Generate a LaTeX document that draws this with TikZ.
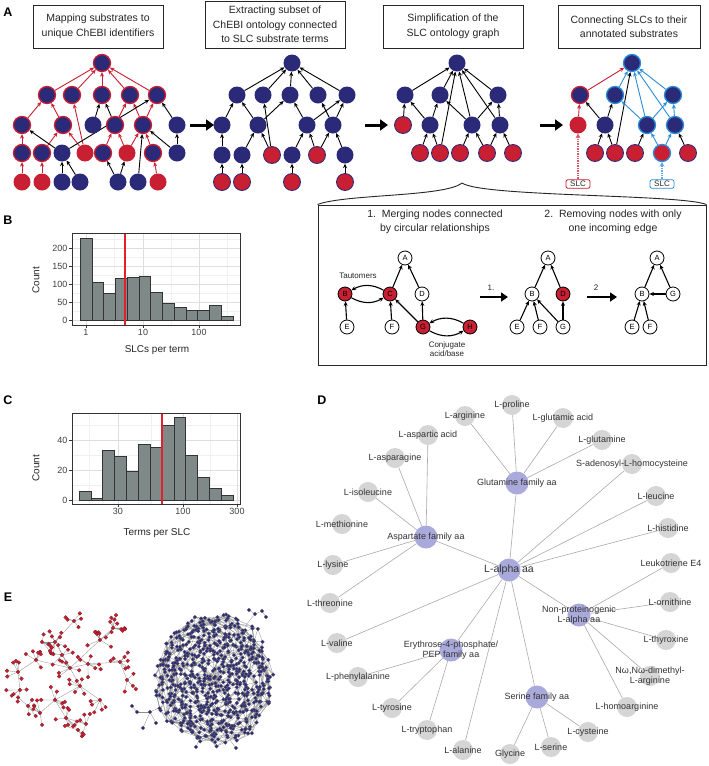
\documentclass[tikz,border=0pt]{standalone}
\usepackage{fontspec}
\setmainfont{Liberation Sans}
\usetikzlibrary{arrows.meta,calc}
\definecolor{navy}{HTML}{2B2A78}
\definecolor{redc}{HTML}{C81F32}
\definecolor{bluec}{HTML}{2A8CD8}
\definecolor{barc}{HTML}{7F8987}
\definecolor{grayn}{HTML}{D5D5D5}
\definecolor{purn}{HTML}{AAA9DC}
\definecolor{vln}{HTML}{E0202A}
\pgfdeclarelayer{bg}
\pgfsetlayers{bg,main}
\begin{document}
\begin{tikzpicture}[x=1pt,y=-1pt,
  nv/.style={circle,fill=navy,minimum size=17pt,inner sep=0pt},
  nvr/.style={nv,draw=redc,line width=1.3pt},
  nvb/.style={nv,draw=bluec,line width=1.3pt},
  rd/.style={circle,fill=redc,draw=navy,line width=0.8pt,minimum size=17pt,inner sep=0pt},
  rdp/.style={circle,fill=redc,minimum size=17pt,inner sep=0pt},
  rdb/.style={rd,draw=bluec,line width=1.3pt},
  ar/.style={-{Stealth[length=4.5pt,width=4pt]},line width=0.9pt},
  bigar/.style={-{Triangle[length=8pt,width=11pt]},line width=3pt},
  tbox/.style={draw=black!85,line width=1pt,align=center,font=\fontsize{10.5}{14.5}\selectfont,text=black!85,minimum height=43pt,inner sep=0pt},
  plab/.style={font=\bfseries\fontsize{12.5}{13}\selectfont},
  sc/.style={circle,draw=black,line width=0.8pt,fill=white,minimum size=14pt,inner sep=0pt,font=\fontsize{7.5}{8}\selectfont},
  scr/.style={sc,fill=redc},
  sar/.style={-{Stealth[length=4.5pt,width=4pt]},line width=1.1pt},
  mar/.style={-{Triangle[length=7pt,width=9pt]},line width=2.4pt},
  small/.style={font=\fontsize{8}{9.5}\selectfont,align=center,text=black!85},
  gmaj/.style={draw=black!13,line width=0.6pt},
  gmin/.style={draw=black!6,line width=0.4pt},
  bar/.style={fill=barc,draw=black!80,line width=0.5pt},
  vl/.style={draw=vln,line width=1.1pt},
  frm/.style={draw=black!80,line width=1pt},
  tk/.style={draw=black!80,line width=0.6pt},
  tkl/.style={font=\fontsize{9}{10}\selectfont,text=black!75,inner sep=1pt},
  axt/.style={font=\fontsize{10}{11}\selectfont,text=black!85},
  gn/.style={circle,fill=grayn,minimum size=20pt,inner sep=0pt},
  pn/.style={circle,fill=purn,minimum size=23pt,inner sep=0pt},
  dl/.style={font=\fontsize{9}{10.5}\selectfont,text=black!80,align=center},
  de/.style={draw=black!33,line width=0.6pt},
  eln/.style={draw=black!45,line width=0.3pt},
  rdot/.style={fill=redc,draw=redc!60!black,line width=0.2pt},
  bdot/.style={fill=navy,draw=black!60,line width=0.2pt},
  slcbox/.style={rounded corners=2pt,line width=0.8pt,font=\fontsize{8}{9}\selectfont,inner sep=1.5pt,minimum width=24pt,text=black!85,fill=white},
]
\begin{pgfonlayer}{bg}
\fill[white] (0,0) rectangle (709,766);
\end{pgfonlayer}
\useasboundingbox (0,0) rectangle (709,766);

% ---------------- Panel letters
\node[plab] (labA) at (8,12) {A};
\node[plab] (labB) at (8,220) {B};
\node[plab] (labC) at (8,400) {C};
\node[plab] (labD) at (322,400) {D};
\node[plab] (labE) at (8,597) {E};

% ---------------- Panel A titles
\node[tbox,minimum width=130pt] (t1) at (98,26.5) {Mapping substrates to\\unique ChEBI identifiers};
\node[tbox,minimum width=140pt,minimum height=47pt] (t2) at (275,24.5) {Extracting subset of\\ChEBI ontology connected\\to SLC substrate terms};
\node[tbox,minimum width=140pt] (t3) at (453,26.5) {Simplification of the\\SLC ontology graph};
\node[tbox,minimum width=142pt] (t4) at (629,26.5) {Connecting SLCs to their\\annotated substrates};

% ---------------- Graph 1
\foreach \n/\x/\y/\s in {g1T/102/63/nvr,
 g1a1/47/95/nvr,g1a2/72/95/nvr,g1a3/102/95/nvr,g1a4/130/95/nvr,g1a5/157/95/nvr,
 g1b1/22/125/nvr,g1b2/63/125/nvr,g1b3/93/125/nv,g1b4/115/125/nvr,g1b5/143/125/nvr,g1b6/177/125/nv,
 g1c1/22/153/nvr,g1c2/42/153/nvr,g1c3/62/153/nv,g1c4/85/153/rdp,g1c5/103/153/nvr,g1c6/127/153/rdp,g1c7/153/153/nvr,g1c8/177/153/nv,
 g1d1/22/182/rdp,g1d2/42/182/rdp,g1d3/62/182/nv,g1d4/80/182/nv,g1d5/118/182/nv,g1d6/138/182/nv,g1d7/158/182/rdp}
 \node[\s] (\n) at (\x,\y) {};
% ---------------- Graph 2
\foreach \n/\x/\y/\s in {g2T/292/63/nv,
 g2a1/237/95/nv,g2a2/263/95/nv,g2a3/290/95/nv,g2a4/318/95/nv,g2a5/347/95/nv,
 g2b1/222/125/nv,g2b2/258/125/nv,g2b3/307/125/nv,g2b4/333/125/nv,
 g2c1/222/155/nv,g2c2/242/155/nv,g2c3/272/155/rd,g2c4/292/155/nv,g2c5/317/155/rd,g2c6/345/155/nv,
 g2d1/222/182/rd,g2d2/242/182/rd,g2d3/292/182/rd,g2d4/345/182/rd}
 \node[\s] (\n) at (\x,\y) {};
% ---------------- Graph 3
\foreach \n/\x/\y/\s in {g3T/457/63/nv,
 g3a1/405/95/nv,g3a2/440/95/nv,g3a3/498/95/nv,
 g3b1/403/125/rd,g3b2/430/125/nv,g3b3/472/125/nv,g3b4/500/125/nv,
 g3c1/420/153/rd,g3c2/440/153/rd,g3c3/460/153/rd,g3c4/487/153/rd,g3c5/513/153/rd}
 \node[\s] (\n) at (\x,\y) {};
% ---------------- Graph 4
\foreach \n/\x/\y/\s in {g4T/632/63/nvb,
 g4a1/580/95/nvr,g4a2/615/95/nvb,g4a3/673/95/nvb,
 g4b1/578/125/rdp,g4b2/605/125/nv,g4b3/647/125/nvb,g4b4/675/125/nvb,
 g4c1/595/153/rd,g4c2/615/153/rd,g4c3/635/153/rd,g4c4/662/153/rdb,g4c5/688/153/rd}
 \node[\s] (\n) at (\x,\y) {};
\node[slcbox,draw=redc] (slcR) at (578,184) {SLC};
\node[slcbox,draw=bluec] (slcB) at (662,184) {SLC};

\begin{pgfonlayer}{bg}
\foreach \u/\v in {g1a1/g1T,g1a2/g1T,g1a3/g1T,g1a4/g1T,g1a5/g1T,g1b1/g1a1,g1b2/g1a1,g1c4/g1a2,
  g1b4/g1a4,g1b5/g1a4,g1b5/g1a5,g1c1/g1b1,g1d1/g1c1,g1c2/g1b2,g1d2/g1c2,g1c4/g1b2,
  g1c5/g1b4,g1c6/g1b4,g1c6/g1b5,g1c7/g1b5,g1d7/g1c7}
  \draw[ar,redc] (\u) -- (\v);
\foreach \u/\v in {g1b3/g1a3,g1b4/g1a3,g1c3/g1b1,g1c3/g1a5,g1d3/g1c3,g1d4/g1c3,g1b6/g1a5,
  g1c8/g1b6,g1c8/g1b5,g1d5/g1c6,g1d6/g1b5,g1d5/g1c5}
  \draw[ar] (\u) -- (\v);
\foreach \u/\v in {g2a1/g2T,g2a2/g2T,g2a3/g2T,g2a4/g2T,g2a5/g2T,g2b1/g2a1,g2b2/g2a1,g2b2/g2a3,
  g2c1/g2b1,g2d1/g2c1,g2c2/g2b2,g2d2/g2c2,g2c3/g2b2,g2c3/g2a2,g2c4/g2b3,g2d3/g2c4,
  g2c5/g2b3,g2c5/g2b4,g2c6/g2b4,g2d4/g2c6,g2b3/g2a3,g2b3/g2a5,g2b4/g2a4,g2b4/g2a5}
  \draw[ar] (\u) -- (\v);
\foreach \u/\v in {g3a1/g3T,g3a2/g3T,g3a3/g3T,g3b1/g3a1,g3b2/g3a1,g3b2/g3a2,g3c1/g3b2,g3c2/g3b2,
  g3c2/g3T,g3b3/g3T,g3b4/g3T,g3b3/g3a2,g3b3/g3a3,g3b4/g3a3,g3c3/g3b3,g3c4/g3b3,g3c4/g3b4,g3c5/g3b4}
  \draw[ar] (\u) -- (\v);
\foreach \u/\v in {g4b1/g4a1,g4a1/g4T}
  \draw[ar,redc] (\u) -- (\v);
\foreach \u/\v in {g4b2/g4a1,g4b2/g4a2,g4c1/g4b2,g4c2/g4b2,g4c2/g4T,g4c3/g4b3,g4c5/g4b4}
  \draw[ar] (\u) -- (\v);
\foreach \u/\v in {g4a2/g4T,g4a3/g4T,g4b3/g4T,g4b4/g4T,g4b3/g4a2,g4b3/g4a3,g4b4/g4a3,g4c4/g4b3,g4c4/g4b4}
  \draw[ar,bluec] (\u) -- (\v);
\end{pgfonlayer}
\draw[redc!75,line width=1.8pt,dash pattern=on 1pt off 0.7pt,-{Stealth[length=4.5pt,width=5pt]}] (slcR) -- (g4b1);
\draw[bluec!75,line width=1.8pt,dash pattern=on 1pt off 0.7pt,-{Stealth[length=4.5pt,width=5pt]}] (slcB) -- (g4c4);

% transition arrows
\coordinate (p1s) at (190,125); \coordinate (p1e) at (214,125);
\coordinate (p2s) at (365,125); \coordinate (p2e) at (388,125);
\coordinate (p3s) at (540,125); \coordinate (p3e) at (563,125);
\draw[bigar] (p1s) -- (p1e);
\draw[bigar] (p2s) -- (p2e);
\draw[bigar] (p3s) -- (p3e);

% ---------------- Process box with brace
\node[draw=black!85,line width=1pt,minimum width=388pt,minimum height=160pt,inner sep=0pt] (pbox) at (512,285) {};
\coordinate (btip) at (462,183);
\draw[line width=0.9pt,black!85] (pbox.north west) .. controls (345,194) and (445,197) .. (btip);
\draw[line width=0.9pt,black!85] (btip) .. controls (482,197) and (680,194) .. (pbox.north east);
\node[font=\fontsize{10.5}{13.5}\selectfont,align=center,text=black!85] (st1) at (435,222) {1.\ \ Merging nodes connected\\by circular relationships};
\node[font=\fontsize{10.5}{13.5}\selectfont,align=center,text=black!85] (st2) at (613,222) {2.\ \ Removing nodes with only\\one incoming edge};

\node[sc] (sA) at (405,258) {A};
\node[scr] (sB) at (345,294) {B};
\node[scr] (sC) at (390,294) {C};
\node[sc] (sD) at (422,294) {D};
\node[sc] (sE) at (347,327) {E};
\node[sc] (sF) at (392,327) {F};
\node[scr] (sG) at (423,327) {G};
\node[scr] (sH) at (470,327) {H};
\node[small] (taut) at (358,276) {Tautomers};
\node[small] (conj) at (447,349) {Conjugate\\acid/base};
\foreach \u/\v in {sC/sA,sD/sA,sE/sB,sF/sC,sG/sC,sG/sD} \draw[sar] (\u) -- (\v);
\draw[sar] (sC) to[out=150,in=30] (sB);
\draw[sar] (sB) to[out=-30,in=-150] (sC);
\draw[sar] (sH) to[out=150,in=30] (sG);
\draw[sar] (sG) to[out=-30,in=-150] (sH);

\node[sc] (mA) at (548,258) {A};
\node[sc] (mB) at (532,294) {B};
\node[scr] (mD) at (563,294) {D};
\node[sc] (mE) at (517,327) {E};
\node[sc] (mF) at (540,327) {F};
\node[sc] (mG) at (563,327) {G};
\foreach \u/\v in {mB/mA,mD/mA,mE/mB,mF/mB,mG/mB,mG/mD} \draw[sar] (\u) -- (\v);

\node[sc] (fA) at (657,258) {A};
\node[sc] (fB) at (642,294) {B};
\node[sc] (fG) at (673,294) {G};
\node[sc] (fE) at (632,327) {E};
\node[sc] (fF) at (650,327) {F};
\foreach \u/\v in {fB/fA,fG/fA,fG/fB,fE/fB,fF/fB} \draw[sar] (\u) -- (\v);

\coordinate (s1s) at (480,297); \coordinate (s1e) at (508,297);
\coordinate (s2s) at (587,297); \coordinate (s2e) at (617,297);
\draw[mar] (s1s) -- (s1e);
\draw[mar] (s2s) -- (s2e);
\node[small] (s1l) at (491,288) {1.};
\node[small] (s2l) at (596,288) {2};

% ---------------- Panel B histogram
\foreach \yy in {239,257,275,293,311} \draw[gmin] (72,\yy) -- (240,\yy);
\foreach \xx in {114.5,171,227.5} \draw[gmin] (\xx,233) -- (\xx,325);
\foreach \yy in {248,266,284,302,320} \draw[gmaj] (72,\yy) -- (240,\yy);
\foreach \xx in {86,143,199} \draw[gmaj] (\xx,233) -- (\xx,325);
\foreach \h [count=\k from 0] in {228,104,74,115,118,122,77,46,35,28,28,40,11}
  \draw[bar] ({80+11.77*\k},320) rectangle ({80+11.77*(\k+1)},{320-0.36*\h});
\draw[vl] (125,233) -- (125,325);
\draw[frm] (72,233) rectangle (240,325);
\foreach \yy/\t in {248/200,266/150,284/100,302/50,320/0}{
  \draw[tk] (69,\yy) -- (72,\yy);
  \node[tkl,anchor=east] (bY\t) at (68.5,\yy) {\t};}
\foreach \xx/\t in {86/1,143/10,199/100}{
  \draw[tk] (\xx,325) -- (\xx,328);
  \node[tkl,anchor=north] (bX\t) at (\xx,328.5) {\t};}
\node[axt,rotate=90] (bYt) at (36,280) {Count};
\node[axt] (bXt) at (157,350) {SLCs per term};

% ---------------- Panel C histogram
\foreach \yy in {425,455,485} \draw[gmin] (72,\yy) -- (240,\yy);
\foreach \xx in {89,151,210} \draw[gmin] (\xx,413) -- (\xx,504);
\foreach \yy in {440,470,500} \draw[gmaj] (72,\yy) -- (240,\yy);
\foreach \xx in {118,183,237} \draw[gmaj] (\xx,413) -- (\xx,504);
\foreach \h [count=\k from 0] in {6,1,33,29,19,37,35,50,55,30,15,8,3}
  \draw[bar] ({79+11.85*\k},500) rectangle ({79+11.85*(\k+1)},{500-1.5*\h});
\draw[vl] (162,413) -- (162,504);
\draw[frm] (72,413) rectangle (240,504);
\foreach \yy/\t in {440/40,470/20,500/0}{
  \draw[tk] (69,\yy) -- (72,\yy);
  \node[tkl,anchor=east] (cY\t) at (68.5,\yy) {\t};}
\foreach \xx/\t in {118/30,183/100,237/300}{
  \draw[tk] (\xx,504) -- (\xx,507);
  \node[tkl,anchor=north] (cX\t) at (\xx,507.5) {\t};}
\node[axt,rotate=90] (cYt) at (36,468) {Count};
\node[axt] (cXt) at (157,533) {Terms per SLC};

% ---------------- Panel D network
\node[gn,label={[dl]center:L-proline}] (pro) at (512,405) {};
\node[gn,label={[dl]center:L-arginine}] (arg) at (465,416) {};
\node[gn,label={[dl]center:L-glutamic acid}] (gla) at (563,418) {};
\node[gn,label={[dl]center:L-glutamine}] (gln) at (602,440) {};
\node[gn,label={[dl]center:S-adenosyl-L-homocysteine}] (sah) at (632,464) {};
\node[gn,label={[dl]center:L-aspartic acid}] (aspa) at (428,435) {};
\node[gn,label={[dl]center:L-asparagine}] (asn) at (395,458) {};
\node[gn,label={[dl]center:L-isoleucine}] (ile) at (368,492) {};
\node[gn,label={[dl]center:L-methionine}] (met) at (342,524) {};
\node[gn,label={[dl]center:L-leucine}] (leu) at (656,496) {};
\node[gn,label={[dl]center:L-histidine}] (his) at (668,528) {};
\node[gn,label={[dl]center:L-lysine}] (lys) at (333,565) {};
\node[gn,label={[dl]center:L-threonine}] (thr) at (330,603) {};
\node[gn,label={[dl]center:L-valine}] (val) at (337,643) {};
\node[gn,label={[dl]center:Leukotriene E4}] (lte) at (671,563) {};
\node[gn,label={[dl]center:L-ornithine}] (orn) at (670,602) {};
\node[gn,label={[dl]center:L-thyroxine}] (thy) at (666,640) {};
\node[gn,label={[dl]center:Nω,Nω-dimethyl-\\L-arginine}] (dma) at (650,676) {};
\node[gn,label={[dl]center:L-homoarginine}] (har) at (627,707) {};
\node[gn,label={[dl]center:L-phenylalanine}] (phe) at (358,677) {};
\node[gn,label={[dl]center:L-tyrosine}] (tyr) at (392,708) {};
\node[gn,label={[dl]center:L-tryptophan}] (trp) at (427,730) {};
\node[gn,label={[dl]center:L-alanine}] (alan) at (463,750) {};
\node[gn,label={[dl]center:Glycine}] (gly) at (510,754) {};
\node[gn,label={[dl]center:L-serine}] (lser) at (551,747) {};
\node[gn,label={[dl]center:L-cysteine}] (cys) at (588,732) {};
\node[pn,label={[dl]center:Glutamine family aa}] (glufam) at (517,483) {};
\node[pn,label={[dl]center:Aspartate family aa}] (aspfam) at (426,537) {};
\node[pn,label={[dl,font=\fontsize{10.5}{12}\selectfont]center:L-alpha aa}] (alpha) at (509,570) {};
\node[pn,label={[dl]center:Non-proteinogenic\\L-alpha aa}] (nonp) at (579,615) {};
\node[pn,label={[dl]center:Erythrose-4-phosphate/\\PEP family aa}] (ery) at (451,650) {};
\node[pn,label={[dl]center:Serine family aa}] (serfam) at (537,697) {};
\begin{pgfonlayer}{bg}
\foreach \u/\v in {glufam/pro,glufam/arg,glufam/gla,glufam/gln,alpha/glufam,
  aspfam/aspa,aspfam/asn,aspfam/ile,aspfam/lys,aspfam/thr,alpha/aspfam,
  alpha/sah,alpha/leu,alpha/his,alpha/nonp,alpha/ery,alpha/val,alpha/alan,alpha/serfam,
  nonp/lte,nonp/orn,nonp/thy,nonp/dma,nonp/har,ery/phe,ery/tyr,ery/trp,
  serfam/gly,serfam/lser,serfam/cys}
  \draw[de] (\u) -- (\v);
\end{pgfonlayer}

% ---------------- Panel E networks (drawn shapes)
% red: hubs (x/y/parent x/parent y/number of leaves)
\def\redhubs{70/668/70/668/6, 55/642/70/668/8, 74/621/55/642/5, 100/640/70/668/8, 113/628/100/640/11,
  36/660/70/668/6, 18/672/36/660/6, 20/690/18/672/5, 88/664/70/668/7, 120/662/88/664/7,
  80/686/70/668/6, 100/700/80/686/5, 55/700/80/686/6, 40/713/55/700/5, 66/718/55/700/6,
  86/724/66/718/5, 42/642/55/642/5, 127/680/120/662/4, 28/706/40/713/4, 62/655/70/668/5, 78/730/66/718/3}
\pgfmathsetseed{77}
\foreach \hx/\hy/\qx/\qy/\nl in \redhubs {
  \draw[eln] (\hx,\hy) -- (\qx,\qy);
  \foreach \k in {1,...,\nl}{
    \pgfmathsetmacro\ang{rnd*360}\pgfmathsetmacro\dd{6+8*rnd}
    \draw[eln] (\hx,\hy) -- ++(\ang:\dd);}}
\pgfmathsetseed{77}
\foreach \hx/\hy/\qx/\qy/\nl in \redhubs {
  \fill[rdot] (\hx,\hy) circle (1.9pt);
  \foreach \k in {1,...,\nl}{
    \pgfmathsetmacro\ang{rnd*360}\pgfmathsetmacro\dd{6+8*rnd}
    \fill[rdot] (\hx,\hy) ++(\ang:\dd) circle (1.9pt);}}
% blue blob
\pgfmathsetseed{5}
\foreach \i in {0,...,719}{%
  \pgfmathsetmacro\fr{\i*0.381966-floor(\i*0.381966)}%
  \pgfmathsetmacro\rr{sqrt((\i+0.5)/720)}%
  \pgfmathsetmacro\bx{214+58*\rr*cos(360*\fr)+10*(rnd-0.5)}%
  \pgfmathsetmacro\by{679+64*\rr*sin(360*\fr)+10*(rnd-0.5)}%
  \expandafter\xdef\csname bx\i\endcsname{\bx}%
  \expandafter\xdef\csname by\i\endcsname{\by}%
}
\foreach \i in {34,...,719}{%
  \pgfmathtruncatemacro\j{\i-13}%
  \pgfmathtruncatemacro\k{\i-21}%
  \pgfmathtruncatemacro\m{\i-34}%
  \edef\ax{\csname bx\i\endcsname}\edef\ay{\csname by\i\endcsname}%
  \edef\jx{\csname bx\j\endcsname}\edef\jy{\csname by\j\endcsname}%
  \edef\kx{\csname bx\k\endcsname}\edef\ky{\csname by\k\endcsname}%
  \edef\mx{\csname bx\m\endcsname}\edef\my{\csname by\m\endcsname}%
  \draw[eln] (\jx,\jy) -- (\ax,\ay) -- (\kx,\ky);
  \draw[eln] (\ax,\ay) -- (\mx,\my);
}
\foreach \i in {1,...,33}{%
  \pgfmathtruncatemacro\j{\i-1}%
  \edef\ax{\csname bx\i\endcsname}\edef\ay{\csname by\i\endcsname}%
  \edef\jx{\csname bx\j\endcsname}\edef\jy{\csname by\j\endcsname}%
  \draw[eln] (\jx,\jy) -- (\ax,\ay);
}
\foreach \ax/\ay/\bx/\by in {163/706/150/712,150/712/137/712,150/712/143/728,150/712/156/723,137/712/132/706,
  245/626/255/614,255/614/262/611,255/614/249/610,262/611/266/617,200/738/196/747,230/740/236/748}
  \draw[eln] (\ax,\ay) -- (\bx,\by);
\foreach \ax/\ay in {150/712,137/712,143/728,156/723,132/706,255/614,262/611,249/610,266/617,196/747,236/748}
  \fill[bdot] (\ax,\ay) circle (1.9pt);
\foreach \i in {0,...,719}{%
  \edef\ax{\csname bx\i\endcsname}\edef\ay{\csname by\i\endcsname}%
  \fill[bdot] (\ax,\ay) circle (1.9pt);
}
\end{tikzpicture}
\end{document}
